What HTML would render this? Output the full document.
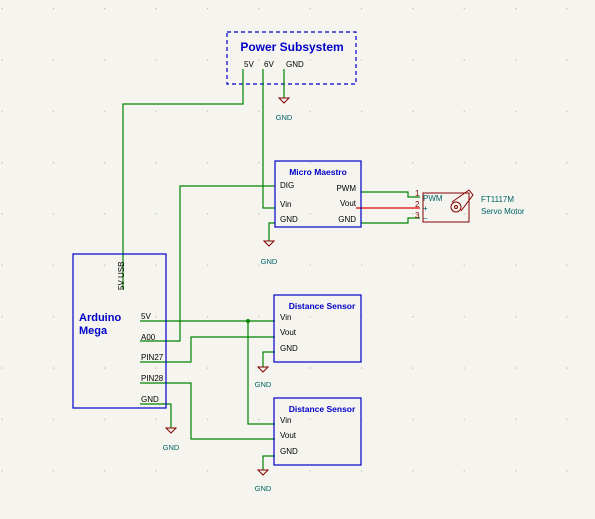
<!DOCTYPE html>
<html><head><meta charset="utf-8"><style>
html,body{margin:0;padding:0;background:#f5f4ef;}
svg{display:block;font-family:"Liberation Sans",sans-serif;}
</style></head><body>
<svg width="595" height="519" viewBox="0 0 595 519" xmlns="http://www.w3.org/2000/svg">
<defs><pattern id="g" x="1.5" y="8" width="51.35" height="51.35" patternUnits="userSpaceOnUse"><rect x="0" y="0" width="1.2" height="1.2" fill="#b8b8b8"/></pattern></defs>
<rect width="595" height="519" fill="#f5f4ef"/>
<rect width="595" height="519" fill="url(#g)"/>
<!-- Power subsystem -->
<rect x="227" y="32" width="129" height="52" fill="none" stroke="#0000c8" stroke-width="1.2" stroke-dasharray="4,3"/>
<text x="292" y="51" font-size="12" font-weight="bold" fill="#0000c8" text-anchor="middle">Power Subsystem</text>
<g font-size="8" fill="#000"><text x="244" y="67">5V</text><text x="264" y="67">6V</text><text x="286" y="67">GND</text></g>
<g fill="none" stroke="#008400" stroke-width="1.2">
<polyline points="243,69 243,104 123,104 123,290"/>
<polyline points="263,69 263,208 275,208"/>
<polyline points="284,69 284,98"/>
<polyline points="275,186 180,186 180,341 140,341"/>
<polyline points="275,223 269,223 269,241"/>
<polyline points="361,192 408,192 408,197 420,197"/>
<polyline points="361,223 408,223 408,218 420,218"/>
<polyline points="140,321 275,321"/>
<polyline points="248,321 248,424 275,424"/>
<polyline points="140,362 191,362 191,337 275,337"/>
<polyline points="140,383 191,383 191,439 275,439"/>
<polyline points="140,404 171,404 171,428"/>
<polyline points="275,352 263,352 263,367"/>
<polyline points="275,456 263,456 263,470"/>
</g>
<line x1="356" y1="208" x2="420" y2="208" stroke="#e00000" stroke-width="1.2"/>
<circle cx="248" cy="321" r="2" fill="#008400"/>
<!-- grounds -->
<g fill="none" stroke="#840000" stroke-width="1">
<path d="M279,98 h10 l-5,5 z"/><path d="M264,241 h10 l-5,5 z"/><path d="M166,428 h10 l-5,5 z"/><path d="M258,367 h10 l-5,5 z"/><path d="M258,470 h10 l-5,5 z"/>
</g>
<g font-size="7.5" fill="#006464" text-anchor="middle"><text x="284" y="120">GND</text><text x="269" y="264">GND</text><text x="171" y="450">GND</text><text x="263" y="387">GND</text><text x="263" y="491">GND</text></g>
<!-- Maestro -->
<rect x="275" y="161" width="86" height="66" fill="none" stroke="#0000c8" stroke-width="1.2"/>
<text x="318" y="175" font-size="8.5" font-weight="bold" fill="#0000c8" text-anchor="middle">Micro Maestro</text>
<g font-size="8" fill="#000"><text x="280" y="188">DIG</text><text x="280" y="207">Vin</text><text x="280" y="222">GND</text>
<text x="356" y="191" text-anchor="end">PWM</text><text x="356" y="206" text-anchor="end">Vout</text><text x="356" y="222" text-anchor="end">GND</text></g>
<!-- Servo -->
<rect x="423" y="193" width="46" height="29" fill="none" stroke="#840000" stroke-width="1"/>
<g font-size="8" fill="#840000"><text x="415" y="196">1</text><text x="415" y="207">2</text><text x="415" y="218">3</text></g>
<g font-size="8" fill="#006464"><text x="423" y="201">PWM</text><text x="423" y="211">+</text><text x="423" y="221">−</text>
<text x="481" y="202">FT1117M</text><text x="481" y="214">Servo Motor</text></g>
<circle cx="456" cy="207" r="5" fill="none" stroke="#840000"/><circle cx="456" cy="207" r="1.5" fill="none" stroke="#840000"/>
<path d="M452,202 L469,190 L473,195 L461,211" fill="none" stroke="#840000"/>
<!-- Arduino -->
<rect x="73" y="254" width="93" height="154" fill="none" stroke="#0000c8" stroke-width="1.2"/>
<text transform="translate(124,290) rotate(-90)" font-size="8" fill="#000">5V USB</text>
<text x="79" y="321" font-size="11" font-weight="bold" fill="#0000c8">Arduino</text>
<text x="79" y="334" font-size="11" font-weight="bold" fill="#0000c8">Mega</text>
<g font-size="8" fill="#000"><text x="141" y="319">5V</text><text x="141" y="340">A00</text><text x="141" y="360">PIN27</text><text x="141" y="381">PIN28</text><text x="141" y="402">GND</text></g>
<!-- Sensors -->
<rect x="274" y="295" width="87" height="67" fill="none" stroke="#0000c8" stroke-width="1.2"/>
<text x="322" y="309" font-size="8.5" font-weight="bold" fill="#0000c8" text-anchor="middle">Distance Sensor</text>
<g font-size="8" fill="#000"><text x="280" y="320">Vin</text><text x="280" y="335">Vout</text><text x="280" y="351">GND</text></g>
<rect x="274" y="398" width="87" height="67" fill="none" stroke="#0000c8" stroke-width="1.2"/>
<text x="322" y="412" font-size="8.5" font-weight="bold" fill="#0000c8" text-anchor="middle">Distance Sensor</text>
<g font-size="8" fill="#000"><text x="280" y="423">Vin</text><text x="280" y="438">Vout</text><text x="280" y="454">GND</text></g>
</svg>
</body></html>
